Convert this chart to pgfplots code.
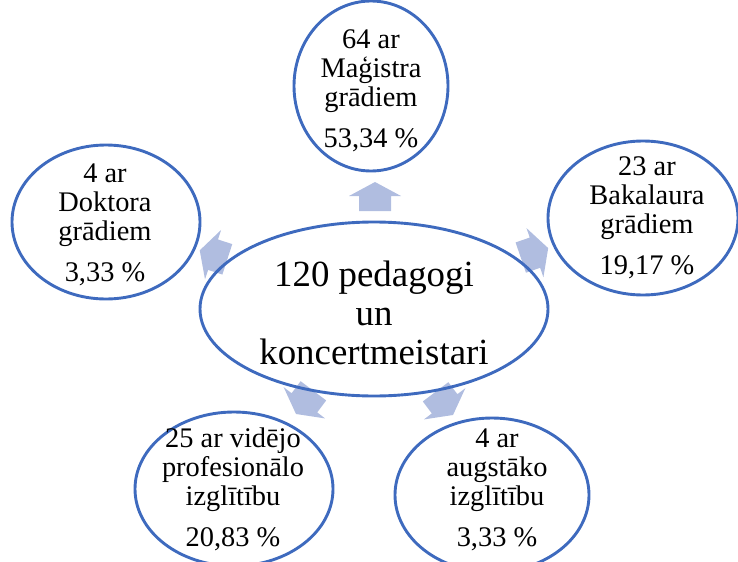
\documentclass[border=0pt]{standalone}
\usepackage{fontspec}
\setmainfont{Liberation Serif}
\usepackage{pgfplots}
\pgfplotsset{compat=1.18}
\definecolor{ring}{RGB}{62,106,190}
\definecolor{arr}{RGB}{176,189,224}
\tikzset{
  small/.style={font=\fontsize{28.5}{29}\selectfont,align=center,inner sep=0pt},
  big/.style={font=\fontsize{37}{39}\selectfont,align=center,inner sep=0pt}}
\newcommand{\radarrow}[3]{%
  \begin{scope}[shift={(axis cs:#1,#2)},rotate=#3]
    \fill[arr] (-16bp,-14bp) -- (16bp,-14bp) -- (16bp,1bp) -- (26bp,1bp) -- (0bp,15bp) -- (-26bp,1bp) -- (-16bp,1bp) -- cycle;
  \end{scope}}
\begin{document}
\begin{tikzpicture}
\begin{axis}[at={(0,0)},anchor=south west,width=738bp,height=562bp,scale only axis,
  xmin=0,xmax=738,ymin=0,ymax=562,y dir=reverse,hide axis,clip=true]
\addplot[draw=none] coordinates {(0,0) (738,562)};
% arrows
\radarrow{375}{197}{0}
\radarrow{214}{255}{72}
\radarrow{534}{253}{-71}
\radarrow{305}{402}{143}
\radarrow{444}{403}{-143}
% ellipses
\draw[ring,line width=2.9bp] (axis cs:374,309) ellipse [x radius=174bp, y radius=87bp];
\draw[ring,line width=2.9bp] (axis cs:371,86) ellipse [x radius=77bp, y radius=85bp];
\draw[ring,line width=2.9bp] (axis cs:106,222) ellipse [x radius=94bp, y radius=77bp];
\draw[ring,line width=2.9bp] (axis cs:643,218) ellipse [x radius=95bp, y radius=77bp];
\draw[ring,line width=2.9bp] (axis cs:234,489) ellipse [x radius=99bp, y radius=77bp];
\draw[ring,line width=2.9bp] (axis cs:492,495) ellipse [x radius=97bp, y radius=77bp];
% texts
\node[big] at (axis cs:374,313) {120 pedagogi\\un\\koncertmeistari};
\node[small] at (axis cs:371,91) {64 ar\\Maģistra\\grādiem\\[12bp]53,34 \%};
\node[small] at (axis cs:105,225) {4 ar\\Doktora\\grādiem\\[12bp]3,33 \%};
\node[small] at (axis cs:647,218) {23 ar\\Bakalaura\\grādiem\\[12bp]19,17 \%};
\node[small] at (axis cs:233,489) {25 ar vidējo\\profesionālo\\izglītību\\[12bp]20,83 \%};
\node[small] at (axis cs:497,490) {4 ar\\augstāko\\izglītību\\[12bp]3,33 \%};
\end{axis}
\pgfresetboundingbox
\path (0,0) rectangle (738bp,562bp);
\end{tikzpicture}
\end{document}
